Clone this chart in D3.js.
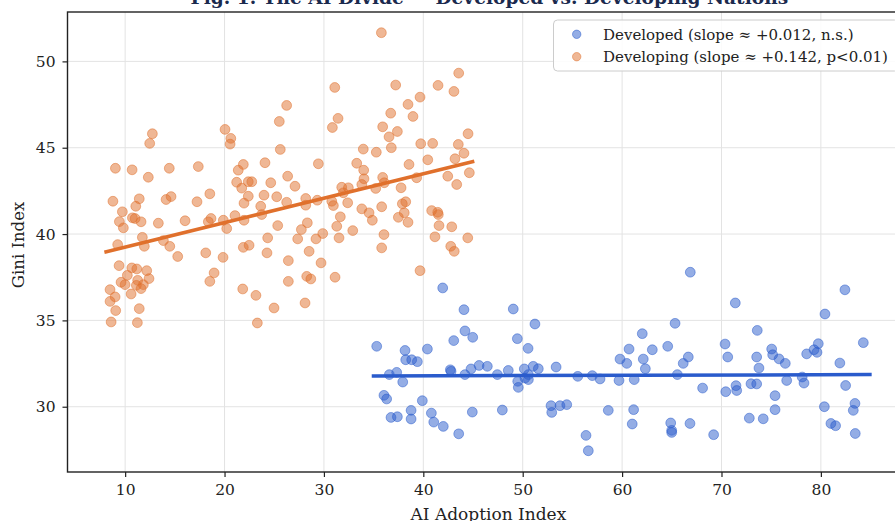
<!DOCTYPE html>
<html><head><meta charset="utf-8">
<script src="https://cdn.jsdelivr.net/npm/d3@7"></script>
<style>body{margin:0;background:#fff;} svg{display:block;font-family:"DejaVu Serif",serif;}</style>
</head><body><svg id="c" width="895" height="521"></svg>
<script>
// ---------------- data ----------------
const developingX = [35.78,43.56,41.48,43.08,37.22,31.09,39.67,38.46,36.72,38.96,31.42,30.85,35.91,37.39,36.55,44.50,39.74,40.94,43.52,44.09,36.78,33.96,35.27,29.44,33.30,34.00,38.56,40.45,43.19,44.63,42.46,35.91,26.35,26.25,12.74,12.47,20.05,20.63,20.56,25.51,25.61,9.02,10.70,12.33,14.44,17.36,21.89,21.38,24.07,21.22,22.39,22.74,21.73,24.65,8.77,11.42,11.07,14.12,14.62,17.23,18.52,22.39,21.96,23.97,25.25,26.25,23.64,9.72,10.73,11.00,11.60,9.42,13.34,16.03,18.64,18.37,19.88,21.05,21.96,23.74,25.35,9.82,20.22,11.73,11.93,13.85,14.49,9.25,15.29,18.11,19.85,21.89,22.47,24.34,24.27,26.42,9.39,10.67,11.17,12.17,10.22,12.40,11.26,9.59,9.99,11.13,11.83,11.60,8.48,8.99,8.48,10.60,9.05,11.42,8.59,11.23,18.95,18.52,21.83,23.16,24.98,23.30,26.42,27.09,28.17,28.17,29.33,30.79,30.95,31.79,32.46,31.95,34.03,33.81,35.21,36.07,37.76,39.33,43.36,32.39,33.81,34.54,34.87,35.81,37.89,38.23,38.08,37.49,38.46,31.65,31.29,32.90,31.52,36.04,35.81,29.88,28.33,27.73,27.36,29.20,28.51,29.71,28.27,28.68,31.12,28.10,40.84,41.45,41.51,41.58,42.86,41.17,44.47,42.76,43.11,39.67];
const developingY = [51.66,49.32,48.61,48.26,48.63,48.49,47.93,47.51,47.00,46.81,46.70,46.17,46.21,45.94,45.63,45.81,45.23,45.25,45.19,44.68,45.00,44.92,44.74,44.07,44.10,43.70,44.03,44.30,44.36,43.55,43.35,43.28,43.35,47.45,45.81,45.25,46.06,45.54,45.21,46.52,44.90,43.81,43.72,43.29,43.81,43.91,44.03,43.70,44.13,43.00,43.03,43.03,42.66,42.97,41.90,42.04,41.61,42.00,42.17,41.87,42.33,42.19,41.79,42.25,42.16,41.84,41.61,41.29,40.94,40.90,40.71,40.72,40.63,40.77,40.90,40.71,40.80,41.07,40.80,41.13,40.49,40.36,40.32,39.81,39.29,39.62,39.29,39.39,38.70,38.91,38.65,39.23,39.35,39.78,38.91,38.46,38.17,38.04,37.98,37.88,37.61,37.42,37.32,37.21,37.07,37.03,37.07,36.84,36.78,36.36,36.10,36.53,35.57,35.68,34.91,34.87,37.75,37.26,36.82,36.45,35.72,34.85,37.26,42.77,42.06,41.67,41.96,41.90,41.65,42.71,42.68,42.39,43.20,42.87,42.64,42.97,42.68,43.26,42.87,41.81,41.46,41.23,40.80,41.58,41.75,41.87,41.23,40.97,40.68,41.00,40.45,40.20,39.78,39.97,39.20,40.03,40.65,40.26,39.72,39.72,39.00,38.33,37.55,37.40,37.50,36.01,41.36,41.26,41.13,40.49,40.42,39.84,39.78,39.29,39.00,37.88];
const developedX = [41.95,44.09,49.05,51.23,44.19,44.97,43.06,49.46,35.31,38.16,40.41,50.54,38.23,38.83,39.40,42.72,42.79,44.80,45.61,46.44,44.19,47.45,48.55,50.16,51.06,50.57,50.23,50.57,49.50,49.56,36.58,37.32,37.93,36.04,36.31,39.90,36.75,37.39,38.77,38.77,40.81,41.05,42.01,43.56,44.93,47.95,51.57,53.36,55.54,57.00,57.78,59.69,61.22,59.79,60.47,60.70,62.03,62.13,62.34,63.04,64.59,65.33,66.86,66.66,66.15,65.56,68.10,52.85,52.92,53.75,54.43,58.61,61.16,61.02,56.37,56.60,64.89,64.99,64.99,66.83,69.21,71.39,70.36,70.63,70.43,71.46,71.53,72.97,73.54,72.80,74.20,73.60,73.54,73.77,75.05,75.15,75.79,76.42,76.56,75.39,75.39,78.12,78.30,78.57,79.31,79.61,79.74,80.41,82.42,84.27,81.91,82.49,80.35,81.01,81.48,83.43,83.26,83.46];
const developedY = [36.88,35.62,35.66,34.79,34.39,34.02,33.83,33.94,33.50,33.26,33.34,33.38,32.72,32.72,32.61,32.14,32.05,32.19,32.39,32.34,31.86,31.86,32.10,32.19,32.34,31.86,31.66,31.57,31.47,31.12,31.86,31.99,31.43,30.66,30.45,30.35,29.38,29.42,29.79,29.29,29.63,29.11,28.86,28.43,29.69,29.81,32.20,32.30,31.76,31.80,31.61,31.52,31.57,32.76,32.51,33.34,34.23,32.76,32.20,33.30,33.50,34.83,37.79,32.88,32.51,31.86,31.08,30.06,29.67,30.06,30.12,29.79,29.83,29.00,28.34,27.45,29.06,28.63,28.51,29.03,28.38,36.01,33.63,32.88,30.87,31.22,30.94,31.33,31.32,29.34,29.30,34.42,32.88,32.24,33.34,33.01,32.77,32.51,31.52,30.64,29.83,31.72,31.37,33.06,33.30,33.15,33.65,35.37,36.77,33.71,32.53,31.23,30.00,29.03,28.90,30.19,29.79,28.45];
// fitted trend lines (endpoints)
const developingFitX = [7.91, 45.13];
const developingFitY = [38.95, 44.22];
const developedFitX = [34.81, 85.11];
const developedFitY = [31.78, 31.86];
const xTicks = [10,20,30,40,50,60,70,80];
const yTicks = [30,35,40,45,50];
const legendLabels = ["Developed (slope \u2248 +0.012, n.s.)", "Developing (slope \u2248 +0.142, p<0.01)"];
const titleText = "Fig. 1. The AI Divide \u2014 Developed vs. Developing Nations";
const xLabel = "AI Adoption Index";
const yLabel = "Gini Index";
const xDomain = [4.2, 89.5];
const yDomain = [26.22, 52.86];

// ---------------- drawing ----------------
const BLUE = "#2a5bcc", ORANGE = "#e0702c";
const L = 67.5, R = 915.3, T = 12, B = 472;
const svg = d3.select("#c");
const x = d3.scaleLinear().domain(xDomain).range([L, R]);
const y = d3.scaleLinear().domain(yDomain).range([B, T]);

// grid
const grid = svg.append("g");
grid.selectAll("line.gx").data(xTicks).join("line")
  .attr("x1", d => x(d)).attr("x2", d => x(d)).attr("y1", T).attr("y2", B)
  .attr("stroke", "#e3e3e3").attr("stroke-width", 1);
grid.selectAll("line.gy").data(yTicks).join("line").attr("class","gy")
  .attr("x1", L).attr("x2", R).attr("y1", d => y(d)).attr("y2", d => y(d))
  .attr("stroke", "#e3e3e3").attr("stroke-width", 1);

// scatter
function scatter(xs, ys, col, op) {
  svg.append("g").selectAll("circle").data(xs.map((v, i) => [v, ys[i]])).join("circle")
    .attr("cx", d => x(d[0])).attr("cy", d => y(d[1])).attr("r", 4.9)
    .attr("fill", col).attr("fill-opacity", op)
    .attr("stroke", col).attr("stroke-opacity", op).attr("stroke-width", 1);
}
scatter(developedX, developedY, BLUE, 0.5);
scatter(developingX, developingY, ORANGE, 0.5);

// trend lines
const line = d3.line().x(d => x(d[0])).y(d => y(d[1]));
svg.append("path").attr("d", line(developedFitX.map((v, i) => [v, developedFitY[i]])))
  .attr("stroke", BLUE).attr("stroke-width", 3.5).attr("fill", "none");
svg.append("path").attr("d", line(developingFitX.map((v, i) => [v, developingFitY[i]])))
  .attr("stroke", ORANGE).attr("stroke-width", 3.5).attr("fill", "none");

// frame
svg.append("rect").attr("x", L).attr("y", T).attr("width", R - L).attr("height", B - T)
  .attr("fill", "none").attr("stroke", "#222").attr("stroke-width", 1.4);

// axes
const xa = svg.append("g").attr("transform", `translate(0,${B})`)
  .call(d3.axisBottom(x).tickValues(xTicks).tickSize(5).tickPadding(7).tickFormat(d3.format("d")));
const ya = svg.append("g").attr("transform", `translate(${L},0)`)
  .call(d3.axisLeft(y).tickValues(yTicks).tickSize(5).tickPadding(7).tickFormat(d3.format("d")));
[xa, ya].forEach(a => {
  a.select(".domain").remove();
  a.selectAll(".tick line").attr("stroke", "#222").attr("stroke-width", 1.2);
  a.selectAll(".tick text").attr("font-family", "DejaVu Serif").attr("font-size", 15.5).attr("fill", "#222");
});

// labels
svg.append("text").attr("x", (L + R) / 2 - 3).attr("y", 520).attr("text-anchor", "middle")
  .attr("font-size", 17).attr("fill", "#222").text(xLabel);
svg.append("text").attr("transform", `translate(24,${(T + B) / 2 + 3}) rotate(-90)`).attr("text-anchor", "middle")
  .attr("font-size", 16.5).attr("fill", "#222").text(yLabel);
svg.append("text").attr("x", (L + R) / 2 - 2).attr("y", 4).attr("text-anchor", "middle")
  .attr("font-size", 18.6).attr("font-weight", "bold").attr("fill", "#1b2a4e").text(titleText);

// legend
const lg = svg.append("g");
lg.append("rect").attr("x", 553.5).attr("y", 20).attr("width", 345).attr("height", 51).attr("rx", 4)
  .attr("fill", "#fff").attr("fill-opacity", 0.85).attr("stroke", "#cccccc").attr("stroke-width", 1);
[BLUE, ORANGE].forEach((c, i) => {
  const cy = 34.3 + i * 22.4;
  lg.append("circle").attr("cx", 576.7).attr("cy", cy).attr("r", 4.2)
    .attr("fill", c).attr("fill-opacity", 0.5).attr("stroke", c).attr("stroke-opacity", 0.5);
  lg.append("text").attr("x", 603).attr("y", cy).attr("dy", "0.35em")
    .attr("font-size", 15).attr("fill", "#222").text(legendLabels[i]);
});
</script></body></html>
